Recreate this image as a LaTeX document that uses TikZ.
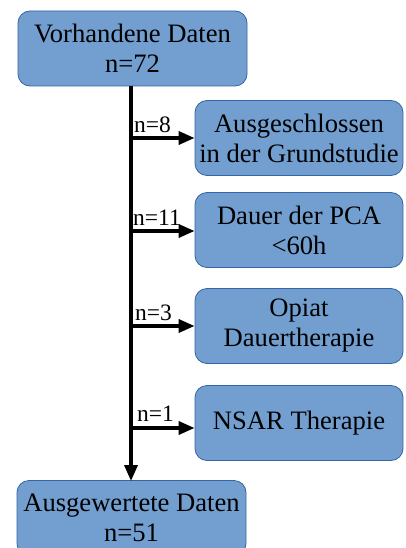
\documentclass[tikz,border=0pt]{standalone}
\usepackage{fontspec}
\setmainfont{Liberation Serif}
\usetikzlibrary{arrows.meta}
\definecolor{boxfill}{HTML}{729FCF}
\definecolor{boxline}{HTML}{3465A4}
\begin{document}
\begin{tikzpicture}[x=1pt,y=-1pt,
  box/.style={draw=boxline,line width=0.8pt,fill=boxfill,rounded corners=12pt,
    align=center,inner sep=0pt,font=\fontsize{26.6}{30}\selectfont},
  flow/.style={line width=3.5pt,-{Triangle[length=16pt,width=13pt]}},
  lbl/.style={font=\fontsize{23.5}{27}\selectfont,anchor=south west,inner sep=0pt}]
\clip (0,0) rectangle (406,548);
\fill[white] (0,0) rectangle (406,548);
\node[box,minimum width=229pt,minimum height=75pt] (top) at (132.5,48.5) {Vorhandene Daten\\n=72};
\node[box,minimum width=229pt,minimum height=75pt] (bot) at (131.5,518) {Ausgewertete Daten\\n=51};
\node[box,minimum width=208pt,minimum height=75pt] (e1) at (299,138) {Ausgeschlossen\\in der Grundstudie};
\node[box,minimum width=208pt,minimum height=75pt] (e2) at (299,230) {Dauer der PCA\\<60h};
\node[box,minimum width=208pt,minimum height=75pt] (e3) at (299,326) {Opiat\\Dauertherapie};
\node[box,minimum width=208pt,minimum height=75pt] (e4) at (299,423) {NSAR Therapie};
\coordinate (vt) at (131,86);
\coordinate (vb) at (131,481);
\draw[flow] (vt) -- (vb);
\coordinate (c1) at (131,138);
\coordinate (c2) at (131,231);
\coordinate (c3) at (131,326);
\coordinate (c4) at (131,428);
\draw[flow] (c1) -- (c1 -| e1.west);
\draw[flow] (c2) -- (c2 -| e2.west);
\draw[flow] (c3) -- (c3 -| e3.west);
\draw[flow] (c4) -- (c4 -| e4.west);
\node[lbl] (l1) at (134,133) {n=8};
\node[lbl] (l2) at (133,226) {n=11};
\node[lbl] (l3) at (135,321) {n=3};
\node[lbl] (l4) at (137,422) {n=1};
\end{tikzpicture}
\end{document}
